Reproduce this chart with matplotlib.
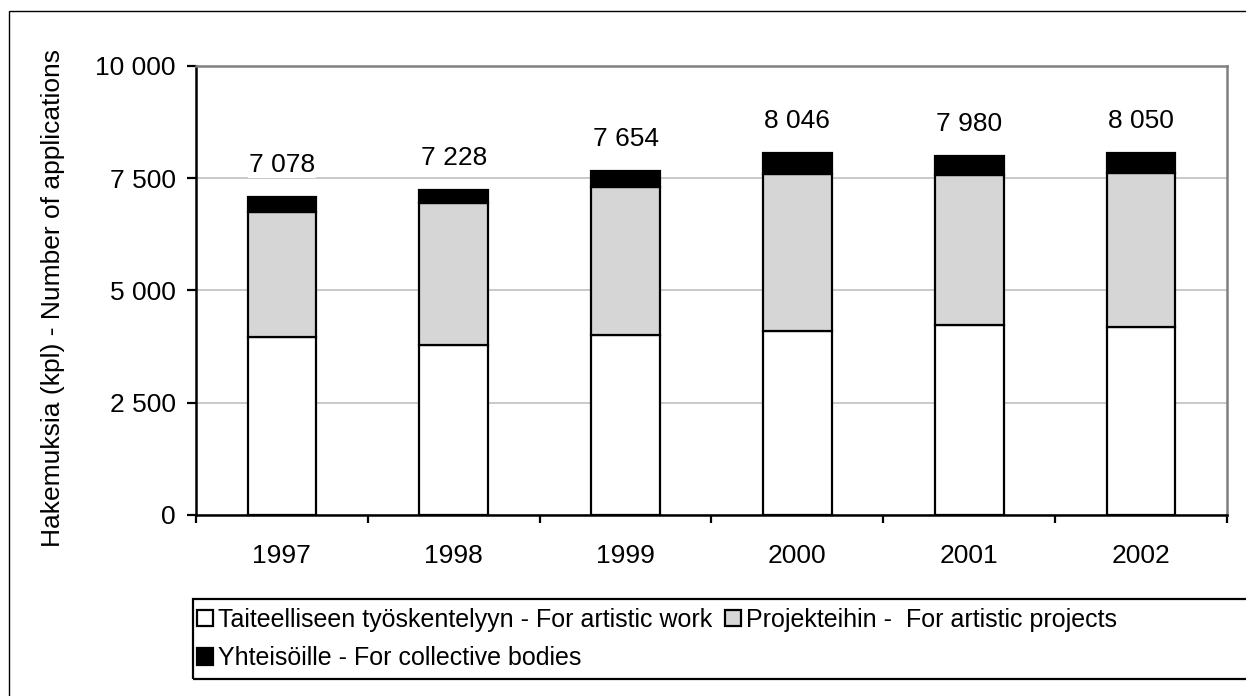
import matplotlib
matplotlib.use('Agg')
import matplotlib.pyplot as plt
from matplotlib.patches import Rectangle, Patch
from matplotlib.ticker import FuncFormatter, FixedLocator

## Data
years = ['1997', '1998', '1999', '2000', '2001', '2002']
artistic_work = [3960, 3790, 4000, 4090, 4230, 4190]
artistic_projects = [2790, 3150, 3300, 3510, 3330, 3430]
collective_bodies = [328, 288, 354, 446, 420, 430]
totals = [7078, 7228, 7654, 8046, 7980, 8050]

series_labels = ['Taiteelliseen työskentelyyn - For artistic work',
                 'Projekteihin -  For artistic projects',
                 'Yhteisöille - For collective bodies']
ylabel = 'Hakemuksia (kpl) - Number of applications'

plt.rcParams['font.family'] = ['Liberation Sans', 'DejaVu Sans']
plt.rcParams['font.size'] = 19

W, H = 1246, 696
fig = plt.figure(figsize=(W / 100, H / 100), dpi=100)
ax = fig.add_axes([196 / W, 1 - 515 / H, (1227 - 196) / W, (515 - 65.7) / H])

## Stacked bars
x = list(range(len(years)))
bottom2 = artistic_work
bottom3 = [a + b for a, b in zip(artistic_work, artistic_projects)]
ax.bar(x, artistic_work, width=0.4, color='white', edgecolor='black', linewidth=1.6, zorder=3)
ax.bar(x, artistic_projects, width=0.4, bottom=bottom2, color='#d6d6d6', edgecolor='black', linewidth=1.6, zorder=3)
ax.bar(x, collective_bodies, width=0.4, bottom=bottom3, color='black', edgecolor='black', linewidth=1.6, zorder=3)

## Total labels above bars
for i, t in enumerate(totals):
    ax.annotate('{:,}'.format(t).replace(',', ' '), (i, t), xytext=(0, 32),
                textcoords='offset pixels', ha='center', va='center', zorder=4,
                bbox=dict(facecolor='white', edgecolor='none', pad=1))

## Axes styling
ax.set_xlim(-0.5, len(years) - 0.5)
ax.set_ylim(0, 10000)
ax.set_yticks([0, 2500, 5000, 7500, 10000])
ax.yaxis.set_major_formatter(FuncFormatter(lambda v, p: '{:,}'.format(int(v)).replace(',', ' ')))
ax.grid(axis='y', color='#c0c0c0', linewidth=1.2, zorder=0)
ax.set_axisbelow(True)

ax.set_xticks(x)
ax.set_xticklabels(years)
ax.xaxis.set_minor_locator(FixedLocator([i - 0.5 for i in range(len(years) + 1)]))
ax.tick_params(axis='x', which='major', length=0, pad=21)
ax.tick_params(axis='x', which='minor', length=6, width=1.6, direction='out')
ax.tick_params(axis='y', length=6.5, width=1.6, direction='out', pad=8)

for s in ['left', 'bottom']:
    ax.spines[s].set_linewidth(1.8)
    ax.spines[s].set_color('black')
for s in ['top', 'right']:
    ax.spines[s].set_linewidth(1.8)
    ax.spines[s].set_color('#808080')

fig.text(53 / W, 1 - 298 / H, ylabel, rotation=90, ha='center', va='center')

## Legend (frame drawn separately so it runs off the right edge)
handles = [Patch(facecolor='white', edgecolor='black', linewidth=1.6),
           Patch(facecolor='black', edgecolor='black', linewidth=1.6),
           Patch(facecolor='#d6d6d6', edgecolor='black', linewidth=1.6)]
labels = [series_labels[0], series_labels[2], series_labels[1]]
fig.legend(handles, labels, ncol=2, frameon=False, loc='upper left', fontsize=18,
           bbox_to_anchor=(193 / W, 1 - 604 / H), borderpad=0.15,
           handlelength=0.65, handleheight=0.65, handletextpad=0.2,
           columnspacing=0.5, labelspacing=0.58, borderaxespad=0)
fig.patches.append(Rectangle((193 / W, 1 - 679 / H), (W + 20 - 193) / W, (679 - 599) / H,
                             transform=fig.transFigure, fill=False, edgecolor='black', linewidth=1.6))

## Outer border (cut off on right and bottom)
fig.patches.append(Rectangle((9 / W, -0.1), 1.2, 1.1 - 11 / H,
                             transform=fig.transFigure, fill=False, edgecolor='black', linewidth=1))

fig.savefig('out.png', dpi=100)
